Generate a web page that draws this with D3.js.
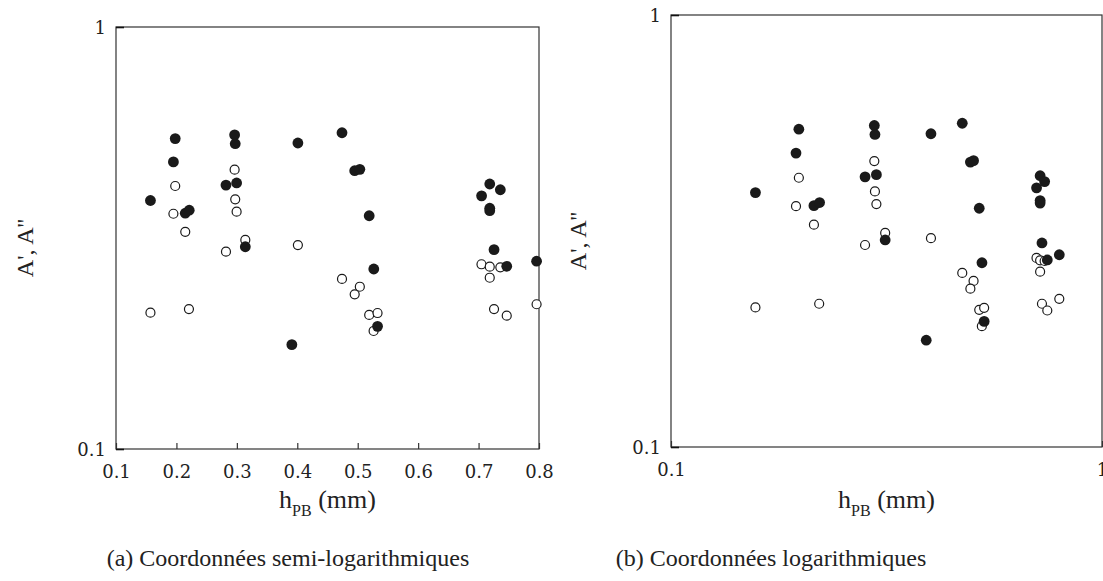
<!DOCTYPE html>
<html><head><meta charset="utf-8">
<script src="https://cdn.jsdelivr.net/npm/d3@7"></script>
<style>
html,body{margin:0;padding:0;background:#fff;}
svg{display:block;}
text{fill:#222;}
</style></head>
<body>
<svg id="c" width="1103" height="581"></svg>
<script>
// A' (filled markers)
const filledX = [0.157,0.195,0.198,0.2146,0.2212,0.282,0.2996,0.2963,0.2973,0.314,0.391,0.401,0.474,0.495,0.5035,0.519,0.5266,0.5328,0.705,0.7185,0.736,0.7185,0.7185,0.7256,0.7466,0.796];
const filledY = [0.388,0.479,0.544,0.362,0.368,0.422,0.427,0.555,0.529,0.3015,0.1767,0.531,0.5616,0.4565,0.460,0.357,0.267,0.1953,0.398,0.4246,0.4115,0.372,0.367,0.2967,0.271,0.2786];
// A'' (open markers)
const openX = [0.157,0.195,0.198,0.2146,0.2207,0.282,0.2963,0.2973,0.2996,0.314,0.401,0.474,0.5035,0.495,0.519,0.5328,0.5263,0.7048,0.7185,0.736,0.7185,0.7256,0.7466,0.796];
const openY = [0.2104,0.361,0.42,0.327,0.2146,0.2935,0.459,0.3905,0.365,0.313,0.3043,0.2529,0.2424,0.2325,0.2078,0.210,0.1904,0.274,0.2704,0.2695,0.2546,0.2146,0.207,0.2203];
const xTicksLin = [0.1,0.2,0.3,0.4,0.5,0.6,0.7,0.8];
const xTickLabelsLin = ["0.1","0.2","0.3","0.4","0.5","0.6","0.7","0.8"];
const yTicks = [0.1,1];
const yTickLabels = ["0.1","1"];
const xTicksLog = [0.1,1];
const xTickLabelsLog = ["0.1","1"];
const yTitle = "A', A''";
const captions = ["(a)  Coordonnées semi-logarithmiques","(b)  Coordonnées logarithmiques"];

const svg = d3.select("#c");
const filled = filledX.map((x,i)=>({x, y: filledY[i]}));
const open = openX.map((x,i)=>({x, y: openY[i]}));
const serif = "'Liberation Serif','DejaVu Serif',serif";
const tickFont = "'DejaVu Serif',serif";

function panel(cfg){
  const {x, y, xTicks, xLabels, capX, yTitleX} = cfg;
  const [x0,x1] = x.range(); const [y0,y1] = y.range();
  const g = svg.append("g");
  // box
  g.append("rect").attr("x",x0).attr("y",y1).attr("width",x1-x0).attr("height",y0-y1)
    .attr("fill","none").attr("stroke","#333").attr("stroke-width",1.2);
  // x axis
  const xa = g.append("g").attr("transform",`translate(0,${y0})`)
    .call(d3.axisBottom(x).tickValues(xTicks).tickFormat((d,i)=>xLabels[i]).tickSize(-6));
  xa.select(".domain").remove();
  xa.selectAll("line").attr("stroke","#333").attr("stroke-width",1.2);
  xa.selectAll("text").attr("y",29).attr("dy",0).style("font-size","18px").style("fill","#222")
    .style("font-family",tickFont);
  // y axis
  const ya = g.append("g").attr("transform",`translate(${x0},0)`)
    .call(d3.axisLeft(y).tickValues(yTicks).tickFormat((d,i)=>yTickLabels[i]).tickSize(-8));
  ya.select(".domain").remove();
  ya.selectAll("line").attr("stroke","#111").attr("stroke-width",1.6);
  ya.selectAll("text").attr("x",-10).attr("dy","0.35em").style("font-size","18px").style("fill","#222")
    .style("font-family",tickFont);
  // points
  g.selectAll("circle.o").data(open).join("circle").attr("class","o")
    .attr("cx",d=>x(d.x)).attr("cy",d=>y(d.y)).attr("r",4.5)
    .attr("fill","#fff").attr("stroke","#1a1a1a").attr("stroke-width",1.2);
  g.selectAll("circle.f").data(filled).join("circle").attr("class","f")
    .attr("cx",d=>x(d.x)).attr("cy",d=>y(d.y)).attr("r",5.4)
    .attr("fill","#1a1a1a");
  // x title
  const t = g.append("text").attr("x",(x0+x1)/2).attr("y",508).attr("text-anchor","middle")
    .style("font-family",serif).style("font-size","26px");
  t.append("tspan").text("h");
  t.append("tspan").attr("dy",8).style("font-size","16px").text("PB");
  t.append("tspan").attr("dy",-8).text(" (mm)");
  // y title
  g.append("text").attr("transform",`translate(${yTitleX},${(y0+y1)/2+10}) rotate(-90)`)
    .attr("text-anchor","middle").style("font-family",serif).style("font-size","24px").text(yTitle);
  // caption
  g.append("text").attr("x",capX).attr("y",566).attr("text-anchor","middle")
    .style("font-family",serif).style("font-size","24px").text(cfg.caption);
}

panel({x: d3.scaleLinear([0.1,0.8],[116,539]), y: d3.scaleLog([0.1,1],[449,27]),
  xTicks: xTicksLin, xLabels: xTickLabelsLin, capX: 288, yTitleX: 33, caption: captions[0]});
panel({x: d3.scaleLog([0.1,1],[671,1102]), y: d3.scaleLog([0.1,1],[447,15]),
  xTicks: xTicksLog, xLabels: xTickLabelsLog, capX: 771, yTitleX: 586, caption: captions[1]});
</script>
</body></html>
